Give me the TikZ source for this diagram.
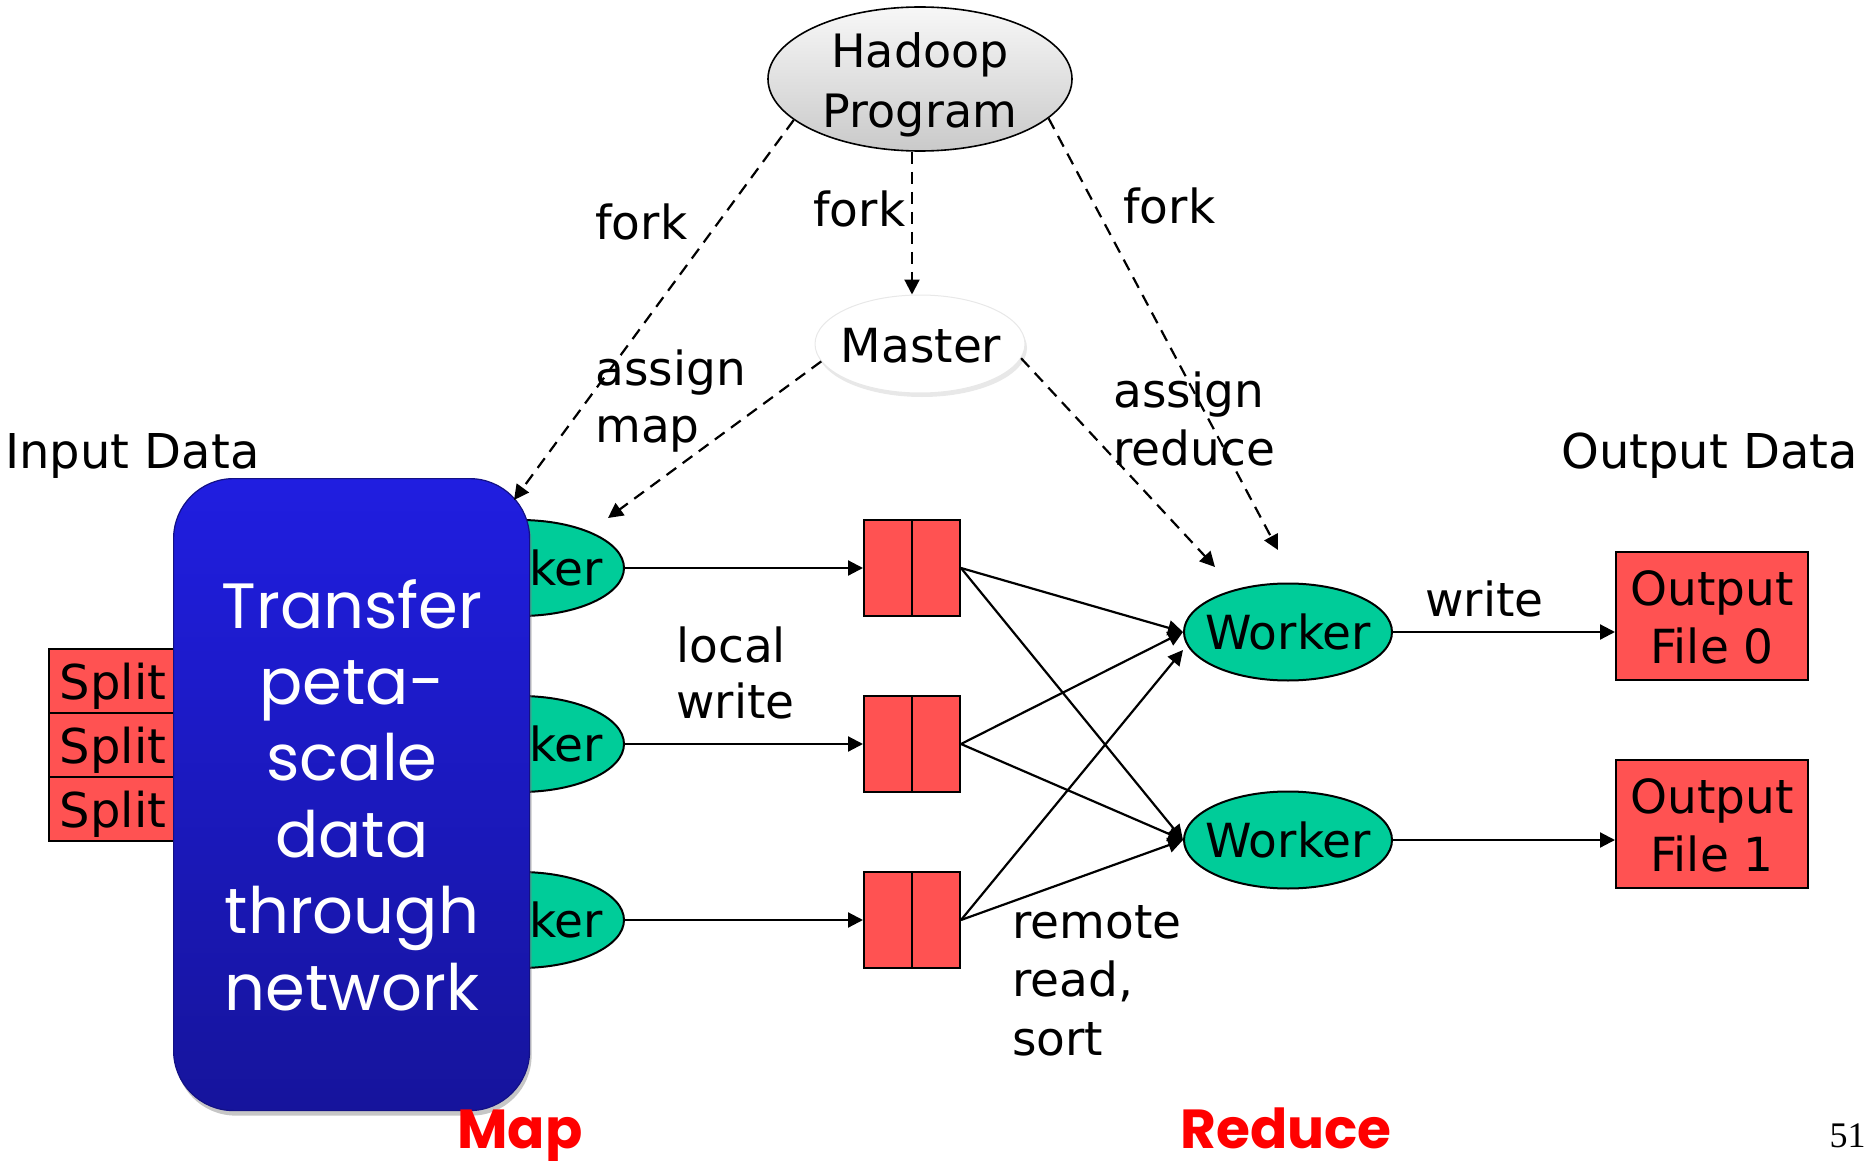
\documentclass[tikz,border=0pt]{standalone}
\usepackage{fontspec}
\setmainfont{DejaVu Sans}
\newfontfamily\handfont{Poppins}
\newfontfamily\pagefont{Liberation Serif}
\usetikzlibrary{arrows.meta,shapes.geometric,shadows,calc}

\definecolor{wgreen}{RGB}{0,204,153}
\definecolor{bufred}{RGB}{255,82,82}
\definecolor{bluetop}{RGB}{32,30,224}
\definecolor{bluebot}{RGB}{22,20,156}

\tikzset{
  lbl/.style={font=\fontsize{23.5}{29}\selectfont, inner sep=0pt, align=left},
  wk/.style={ellipse, draw=black, line width=1pt, fill=wgreen,
             minimum width=104pt, minimum height=48pt, inner sep=0pt},
  redbox/.style={draw=black, line width=1pt, fill=bufred, inner sep=0pt},
  splitbox/.style={redbox, minimum width=64pt, minimum height=32pt,
             font=\fontsize{24}{28}\selectfont, text depth=0pt},
  arr/.style={line width=1.1pt, -{Triangle[length=7.5pt,width=7.5pt]}},
  darr/.style={arr, dash pattern=on 6pt off 4pt},
}

\begin{document}
\begin{tikzpicture}[x=0.5pt,y=-0.5pt]
\useasboundingbox (0,0) rectangle (1876,1161);

% ---- program and master ----
% (multi-line nodes are anchored at the baseline of their last line)
\node[ellipse, draw=black, line width=0.8pt, top color=gray!6, bottom color=gray!42,
      minimum width=152pt, minimum height=72pt, inner sep=0pt] (hadoop) at (920,79) {};
\node[font=\fontsize{23}{30}\selectfont, inner sep=0pt, align=center, anchor=base]
      (hadooptxt) at (920,128) {Hadoop\\Program};

\node[ellipse, fill=white, draw=gray!18, line width=0.5pt,
      drop shadow={opacity=0.18, shadow xshift=1pt, shadow yshift=-2pt},
      minimum width=105pt, minimum height=49pt, inner sep=0pt] (master) at (920,344) {};
\node[lbl, anchor=base] (mastertxt) at (921,362) {Master};

% ---- input splits ----
\node[splitbox, anchor=north west] (s1) at (48,648) {Split};
\node[splitbox, anchor=north west] (s2) at (48,712) {Split};
\node[splitbox, anchor=north west] (s3) at (48,776) {Split};

% ---- map workers ----
\node[wk, label={[lbl]center:Worker}] (mw1) at (520,568) {};
\node[wk, label={[lbl]center:Worker}] (mw2) at (520,744) {};
\node[wk, label={[lbl]center:Worker}] (mw3) at (520,920) {};

% ---- intermediate buffers ----
\node[redbox, minimum width=48pt, minimum height=48pt] (b1) at (912,568) {};
\node[redbox, minimum width=48pt, minimum height=48pt] (b2) at (912,744) {};
\node[redbox, minimum width=48pt, minimum height=48pt] (b3) at (912,920) {};
\foreach \b in {b1,b2,b3} \draw[line width=1pt] (\b.north) -- (\b.south);

\draw[arr] (mw1.east) -- (b1.west);
\draw[arr] (mw2.east) -- (b2.west);
\draw[arr] (mw3.east) -- (b3.west);

% ---- network transfer box ----
\node[rounded corners=30pt, minimum width=178pt, minimum height=316pt, inner sep=0pt,
      top color=bluetop, bottom color=bluebot, draw=bluebot!85!black, line width=0.6pt,
      drop shadow={opacity=0.45, shadow xshift=1pt, shadow yshift=-2.5pt},
      anchor=north west] (xfer) at (173,478) {};
\node[font=\handfont\fontsize{32}{38.2}\selectfont, text=white, inner sep=0pt,
      align=center, anchor=base] (xfertxt) at (352,1010)
      {Transfer\\peta-\\scale\\data\\through\\network};

% ---- reduce workers and output ----
\node[wk, minimum height=48.5pt, label={[lbl]center:Worker}] (rw1) at (1288,632) {};
\node[wk, minimum height=48.5pt, label={[lbl]center:Worker}] (rw2) at (1288,840) {};

\node[redbox, minimum width=96pt, minimum height=64pt] (out0) at (1712,616) {};
\node[redbox, minimum width=96pt, minimum height=64pt] (out1) at (1712,824) {};
\node[lbl, align=center, anchor=base] (out0txt) at (1712,663) {Output\\File 0};
\node[lbl, align=center, anchor=base] (out1txt) at (1712,871) {Output\\File 1};

\draw[arr] (b1.east) -- (rw1.west);
\draw[arr] (b1.east) -- (rw2.west);
\draw[arr] (b2.east) -- (rw1.west);
\draw[arr] (b2.east) -- (rw2.west);
\draw[arr] (b3.east) -- ([yshift=-9pt]rw1.west);
\draw[arr] (b3.east) -- (rw2.west);

\draw[arr] (rw1.east) -- (rw1.east -| out0.west);
\draw[arr] (rw2.east) -- (rw2.east -| out1.west);

% ---- control flow (dashed) ----
\coordinate (tipL) at (514,500);
\coordinate (tipM) at (608,518);
\coordinate (tipR1) at (1215,567);
\coordinate (tipR2) at (1278,550);
\draw[darr] (hadoop.198) -- (tipL);
\draw[darr] ([xshift=-4pt]hadoop.south) -- ([xshift=-4pt]master.north);
\draw[darr] (hadoop.-17) -- (tipR2);
\draw[darr] (master.190) -- (tipM);
\draw[darr] (master.-8) -- (tipR1);

% ---- labels ----
\node[lbl, anchor=base west] (forkL) at (595,240) {fork};
\node[lbl, anchor=base west] (forkM) at (813,227) {fork};
\node[lbl, anchor=base west] (forkR) at (1123,223) {fork};
\node[lbl, anchor=base west, font=\fontsize{23.5}{28.5}\selectfont] (amap) at (595,442) {assign\\map};
\node[lbl, anchor=base west, font=\fontsize{23.5}{29}\selectfont] (ared) at (1113,465) {assign\\reduce};
\node[lbl, anchor=base west, font=\fontsize{23.5}{28}\selectfont] (lw) at (676,718) {local\\write};
\node[lbl, anchor=base west] (wr) at (1425,616) {write};
\node[lbl, anchor=base west, font=\fontsize{23.5}{29.25}\selectfont] (rrs) at (1012,1055) {remote\\read,\\sort};
\node[font=\fontsize{24}{28}\selectfont, inner sep=0pt, anchor=base west] (indata) at (5,468) {Input Data};
\node[font=\fontsize{24}{28}\selectfont, inner sep=0pt, anchor=base west] (outdata) at (1561,468) {Output Data};

\node[font=\handfont\bfseries\fontsize{27.5}{30}\selectfont, text=red, inner sep=0pt,
      anchor=base west] (maptxt) at (457,1148) {Map};
\node[font=\handfont\bfseries\fontsize{27.5}{30}\selectfont, text=red, inner sep=0pt,
      anchor=base west] (redtxt) at (1180,1148) {Reduce};
\node[font=\pagefont\fontsize{18}{20}\selectfont, inner sep=0pt, anchor=base east] (pg) at (1866,1147) {51};
\end{tikzpicture}
\end{document}
